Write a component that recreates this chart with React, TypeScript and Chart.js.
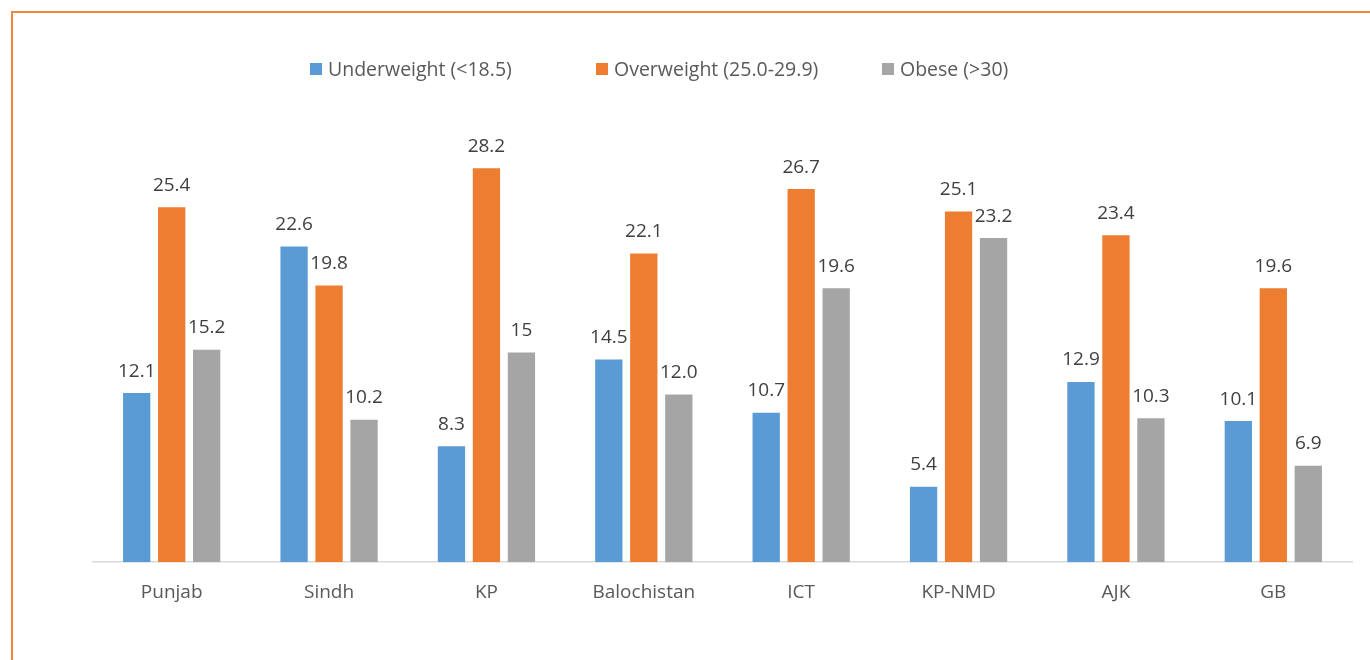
import React, { useEffect, useRef } from "react";
import { Chart, registerables } from "chart.js";

Chart.register(...registerables);

const categories = ["Punjab", "Sindh", "KP", "Balochistan", "ICT", "KP-NMD", "AJK", "GB"];
const seriesNames = ["Underweight (<18.5)", "Overweight (25.0-29.9)", "Obese (>30)"];
const underweight = [12.1, 22.6, 8.3, 14.5, 10.7, 5.4, 12.9, 10.1];
const overweight = [25.4, 19.8, 28.2, 22.1, 26.7, 25.1, 23.4, 19.6];
const obese = [15.2, 10.2, 15, 12.0, 19.6, 23.2, 10.3, 6.9];
const underweightLabels = ["12.1", "22.6", "8.3", "14.5", "10.7", "5.4", "12.9", "10.1"];
const overweightLabels = ["25.4", "19.8", "28.2", "22.1", "26.7", "25.1", "23.4", "19.6"];
const obeseLabels = ["15.2", "10.2", "15", "12.0", "19.6", "23.2", "10.3", "6.9"];
const colors = ["#5B9BD5", "#ED7D31", "#A5A5A5"];

const FONT = "'Open Sans', 'DejaVu Sans', sans-serif";
const TEXT = "#595959";

const dataLabelPlugin = {
  id: "dataLabels",
  afterDatasetsDraw(chart: any) {
    const ctx = chart.ctx;
    const allLabels = [underweightLabels, overweightLabels, obeseLabels];
    ctx.save();
    ctx.font = `19px ${FONT}`;
    ctx.fillStyle = "#404040";
    ctx.textAlign = "center";
    ctx.textBaseline = "alphabetic";
    chart.data.datasets.forEach((_ds: any, di: number) => {
      const meta = chart.getDatasetMeta(di);
      meta.data.forEach((el: any, i: number) => {
        ctx.fillText(allLabels[di][i], el.x, el.y - 16.5);
      });
    });
    ctx.restore();
  },
};

const legendPlugin = {
  id: "customLegend",
  afterDraw(chart: any) {
    const ctx = chart.ctx;
    const startX = 310;
    const entryW = 286;
    const cy = 69;
    ctx.save();
    ctx.font = `19.5px ${FONT}`;
    ctx.textBaseline = "middle";
    ctx.textAlign = "left";
    chart.data.datasets.forEach((ds: any, i: number) => {
      const x = startX + i * entryW;
      ctx.fillStyle = ds.backgroundColor;
      ctx.fillRect(x, cy - 6, 12, 12);
      ctx.fillStyle = TEXT;
      ctx.fillText(ds.label, x + 18, cy + 1);
    });
    ctx.restore();
  },
};

export default function App() {
  const ref = useRef<HTMLCanvasElement | null>(null);
  useEffect(() => {
    if (!ref.current) return;
    const chart = new Chart(ref.current, {
      type: "bar",
      data: {
        labels: categories,
        datasets: [underweight, overweight, obese].map((d, i) => ({
          label: seriesNames[i],
          data: d,
          backgroundColor: colors[i],
          borderWidth: 0,
          categoryPercentage: 0.667,
          barPercentage: 0.78,
        })),
      },
      options: {
        animation: false,
        responsive: false,
        maintainAspectRatio: false,
        layout: { padding: { left: 93, right: 18, top: 143, bottom: 37 } },
        plugins: {
          legend: { display: false },
          tooltip: { enabled: false },
        },
        scales: {
          x: {
            grid: { display: false, drawTicks: false },
            border: { display: true, color: "#D9D9D9", width: 1.5 },
            ticks: {
              color: TEXT,
              font: { family: FONT, size: 19 },
              padding: 19,
            },
          },
          y: {
            display: false,
            min: 0,
            max: 30,
          },
        },
      },
      plugins: [dataLabelPlugin, legendPlugin],
    });
    return () => chart.destroy();
  }, []);
  return (
    <div>
      <div
        style={{
          position: "fixed",
          left: 11,
          top: 11,
          width: 1359,
          height: 649,
          borderTop: "2px solid #F0883B",
          borderLeft: "2px solid #F0883B",
          boxSizing: "border-box",
        }}
      />
      <canvas
        ref={ref}
        width={1370}
        height={660}
        style={{ position: "fixed", left: 0, top: 0, width: 1370, height: 660 }}
      />
    </div>
  );
}
